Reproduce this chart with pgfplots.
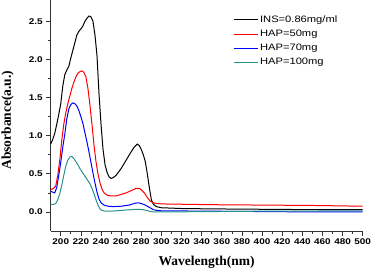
\documentclass[border=0pt]{standalone}
\usepackage{fontspec}
\setmainfont{Liberation Serif}
\newfontfamily\ticksans[FakeStretch=1.2]{Liberation Sans}
\newfontfamily\legsans[FakeStretch=1.2]{Liberation Sans}
\usepackage{pgfplots}
\pgfplotsset{compat=1.18}
\usetikzlibrary{calc}
\definecolor{tealc}{RGB}{40,145,140}
\begin{document}
\begin{tikzpicture}
\begin{axis}[
  name=ax,
  scale only axis,
  width=312pt, height=231pt,
  xmin=190, xmax=500, ymin=-0.25, ymax=2.78,
  axis x line=bottom, axis y line=left,
  axis line style={-, line width=0.8pt, black!80},
  xtick={200,220,...,500}, ytick={0,0.5,...,2.5},
  minor x tick num=1, minor y tick num=1,
  tick align=outside,
  major tick length=4.5pt, minor tick length=2.6pt,
  tick style={line width=0.7pt, black!80},
  /pgf/number format/assume math mode=true,
  /pgf/number format/fixed, /pgf/number format/fixed zerofill,
  yticklabel style={/pgf/number format/precision=1, font=\fontsize{8.3}{9}\selectfont\ticksans\bfseries},
  xticklabel style={/pgf/number format/precision=0, font=\fontsize{8.3}{9}\selectfont\ticksans\bfseries},
  xlabel={Wavelength(nm)}, ylabel={Absorbance(a.u.)},
  xlabel style={font=\fontsize{13.5}{15}\selectfont\bfseries, at={(axis description cs:0.5,0)}, anchor=center, yshift=-31pt},
  ylabel style={font=\fontsize{13.5}{15}\selectfont\bfseries, at={(axis description cs:0,0.48)}, anchor=center, rotate=0, yshift=43pt},
  legend style={draw=none, fill=none, at={(0.584,0.942)}, anchor=north west,
    font=\fontsize{9.3}{10}\selectfont\legsans, row sep=2.2pt, inner sep=0pt,
    /tikz/every even column/.append style={column sep=0pt}},
  legend cell align=left,
  legend image code/.code={\draw[#1] (0pt,0pt) -- (24pt,0pt);},
  every axis plot/.append style={line width=1pt},
  clip=true,
]
\addplot[black] coordinates {(190,0.89)(192,0.95)(194,1.03)(196,1.15)(198,1.28)(200,1.42)(202,1.65)(204,1.80)(206,1.86)(208,1.91)(210,2.02)(212,2.12)(214,2.22)(216,2.32)(218,2.37)(220,2.40)(222,2.44)(224,2.50)(226,2.54)(228,2.57)(230,2.56)(232,2.50)(234,2.32)(236,2.05)(238,1.55)(240,1.15)(242,0.82)(244,0.62)(246,0.52)(248,0.46)(250,0.44)(252,0.45)(255,0.48)(260,0.57)(265,0.68)(270,0.79)(273,0.85)(276,0.89)(278,0.87)(280,0.82)(282,0.75)(284,0.66)(286,0.50)(288,0.32)(290,0.16)(292,0.10)(295,0.07)(300,0.055)(320,0.045)(350,0.04)(400,0.035)(450,0.03)(500,0.03)};
\addlegendentry{INS=0.86mg/ml}
\addplot[red] coordinates {(190,0.29)(193,0.31)(195,0.34)(197,0.48)(199,0.68)(201,0.94)(203,1.15)(205,1.30)(207,1.42)(209,1.52)(211,1.62)(213,1.70)(215,1.77)(217,1.82)(219,1.84)(221,1.85)(223,1.83)(225,1.77)(227,1.62)(229,1.40)(231,1.15)(233,0.88)(235,0.66)(237,0.50)(239,0.38)(241,0.30)(243,0.25)(246,0.22)(250,0.21)(255,0.21)(260,0.23)(265,0.25)(270,0.28)(275,0.31)(278,0.31)(280,0.29)(283,0.25)(286,0.19)(289,0.14)(292,0.12)(296,0.11)(300,0.105)(350,0.095)(400,0.09)(450,0.085)(500,0.075)};
\addlegendentry{HAP=50mg}
\addplot[blue] coordinates {(190,0.27)(192,0.26)(194,0.25)(196,0.32)(198,0.48)(200,0.65)(202,0.85)(204,1.02)(206,1.22)(208,1.35)(210,1.41)(212,1.43)(214,1.42)(216,1.39)(218,1.33)(220,1.25)(222,1.16)(224,1.04)(226,0.92)(228,0.79)(230,0.65)(232,0.51)(234,0.38)(236,0.26)(238,0.17)(240,0.12)(243,0.09)(247,0.075)(252,0.07)(260,0.075)(268,0.09)(274,0.115)(277,0.12)(280,0.11)(284,0.09)(288,0.06)(292,0.03)(296,0.02)(300,0.015)(350,0.01)(400,0.005)(450,0.0)(500,0.0)};
\addlegendentry{HAP=70mg}
\addplot[tealc] coordinates {(190,0.10)(193,0.10)(195,0.11)(197,0.16)(199,0.24)(201,0.35)(203,0.48)(205,0.60)(207,0.68)(209,0.72)(211,0.73)(213,0.70)(215,0.66)(217,0.62)(219,0.57)(221,0.53)(223,0.49)(225,0.45)(227,0.41)(229,0.37)(231,0.31)(233,0.24)(235,0.16)(237,0.09)(239,0.04)(241,0.02)(244,0.01)(250,0.01)(260,0.02)(270,0.03)(276,0.035)(282,0.03)(288,0.01)(292,0.0)(300,0.0)(350,0.005)(400,0.01)(450,0.012)(500,0.015)};
\addlegendentry{HAP=100mg}
\end{axis}
\pgfresetboundingbox
\path[use as bounding box] ($(ax.south west)+(-50.7pt,-42pt)$) rectangle ($(ax.north east)+(8.3pt,0pt)$);
\end{tikzpicture}
\end{document}
